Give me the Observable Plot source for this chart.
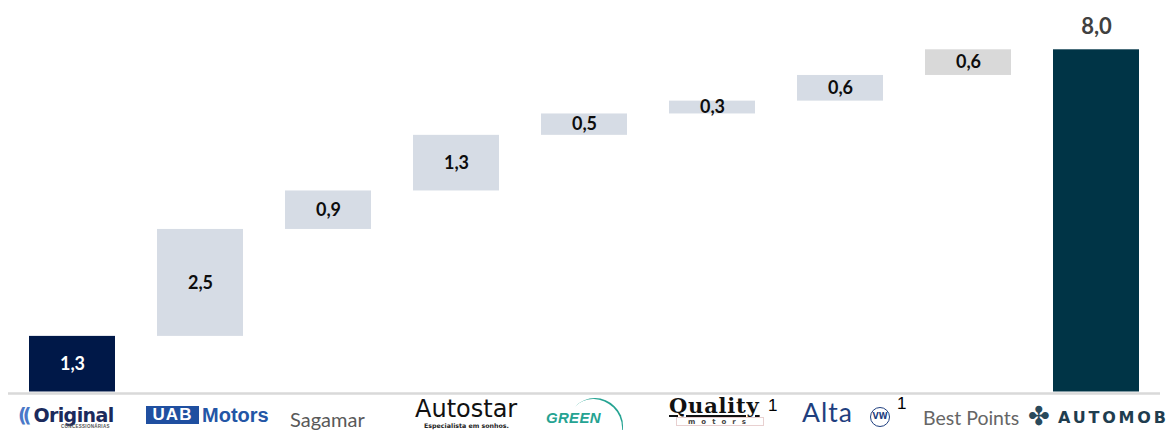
<!DOCTYPE html>
<html>
<head>
<meta charset="utf-8">
<script src="https://cdn.jsdelivr.net/npm/d3@7"></script>
<script src="https://cdn.jsdelivr.net/npm/@observablehq/plot@0.6"></script>
<style>
  html, body { margin: 0; padding: 0; background: #fff; }
  #wrap { position: relative; width: 1172px; height: 430px; overflow: hidden; }
  #logos { position: absolute; left: 0; top: 0; width: 1172px; height: 430px; pointer-events: none; }
  #logos > div { position: absolute; white-space: nowrap; line-height: 1; }
</style>
</head>
<body>
<div id="wrap"><div id="logos"></div></div>
<script>
// ---- data ----
const categories = ["Original", "UAB Motors", "Sagamar", "Autostar", "Green", "Quality", "Alta", "Best Points", "Automob"];
const values     = [1.3, 2.5, 0.9, 1.3, 0.5, 0.3, 0.6, 0.6, 8.0];
const kinds      = ["first", "step", "step", "step", "step", "step", "step", "other", "total"];

// ---- build waterfall table ----
let cum = 0;
const rows = categories.map((cat, i) => {
  const v = values[i];
  let y1, y2;
  if (kinds[i] === "total") { y1 = 0; y2 = v; }
  else { y1 = cum; y2 = cum + v; cum += v; }
  return { cat, value: v, kind: kinds[i], y1, y2 };
});

const fills = { first: "#001848", step: "#d6dce5", other: "#d9d9d9", total: "#003446" };
const fmt = v => d3.format(".1f")(v).replace(".", ",");

const chart = Plot.plot({
  width: 1172,
  height: 430,
  marginLeft: 8,
  marginRight: 12,
  marginTop: 49.3,
  marginBottom: 38.5,
  x: { domain: categories, paddingInner: 0.326, paddingOuter: 0.163, axis: null },
  y: { domain: [0, 8], axis: null },
  color: { type: "identity" },
  style: { fontFamily: "Lato, sans-serif", background: "white", overflow: "visible" },
  marks: [
    Plot.barY(rows, { x: "cat", y1: "y1", y2: "y2", fill: d => fills[d.kind] }),
    Plot.ruleY([0], { stroke: "#d9d9d9", strokeWidth: 2.5, dy: 1.5 }),
    Plot.text(rows.filter(d => d.kind !== "total"), {
      x: "cat", y: d => (d.y1 + d.y2) / 2, text: d => fmt(d.value),
      fill: d => d.kind === "first" ? "#ffffff" : "#0d0d0d",
      fontSize: 18, fontWeight: "bold"
    }),
    Plot.text(rows.filter(d => d.kind === "total"), {
      x: "cat", y: "y2", text: d => fmt(d.value),
      fill: "#404040", fontSize: 22, fontWeight: "bold", lineAnchor: "bottom", dy: -16
    })
  ]
});
document.getElementById("wrap").prepend(chart);

// ---- category labels (logo-like text), positioned from the x scale ----
const xs = chart.scale("x");
const center = c => xs.apply(c) + xs.bandwidth / 2;

// style config: [category, dx from bar center, top, css, html]
const logoParts = [
  ["Original", -54, 404, "font:bold 19px 'DejaVu Sans';letter-spacing:-0.6px;color:#1b2a5c",
    "<span style='color:#4a78c8;letter-spacing:-4px'>((</span> Original"],
  ["Original", -11, 424, "font:bold 4.5px 'Liberation Sans';color:#555;letter-spacing:0.3px", "CONCESSIONÁRIAS"],
  ["UAB Motors", -54, 406, "width:53px;height:18px;background:#1f4fa0;color:#fff;font:bold 17px 'Liberation Sans';text-align:center;line-height:18px;letter-spacing:1px", "UAB"],
  ["UAB Motors", 2, 404, "font:bold 20px 'Liberation Sans';color:#2356a6", "Motors"],
  ["Sagamar", -38, 407, "font:20px Lato;color:#595959", "Sagamar"],
  ["Autostar", -41, 400, "font:24px 'DejaVu Sans';color:#111;line-height:0.8", "Autostar"],
  ["Autostar", -32, 422, "font:bold 6.3px 'DejaVu Sans';color:#222", "Especialista em sonhos."],
  ["Green", -38, 409, "font:italic bold 15px 'Liberation Sans';color:#25a392;letter-spacing:0.3px", "GREEN"],
  ["Green", -17, 398, "width:56px;height:56px;box-sizing:border-box;border-radius:50%;border-right:2.5px solid #25a392;transform:rotate(-45deg)", ""],
  ["Quality", -43, 398, "font:bold 21px 'DejaVu Serif';color:#111;letter-spacing:0.8px;text-decoration:underline;line-height:0.8", "Quality"],
  ["Quality", -36, 416.5, "width:88px;height:9px;box-sizing:border-box;border:1px solid #e8d0d0;font:bold 7px 'DejaVu Sans';color:#444;letter-spacing:6px;text-align:center;line-height:8px", "motors"],
  ["Quality", 56, 396, "font:17px 'Liberation Sans';color:#000", "1"],
  ["Alta", -38, 401.5, "font:26.5px Lato;color:#1f3f7f;letter-spacing:1px;line-height:0.8", "Alta"],
  ["Alta", 30, 406.5, "width:20px;height:20px;box-sizing:border-box;border:1.6px solid #1f3f7f;border-radius:50%;font:bold 8px 'DejaVu Sans';color:#1f3f7f;text-align:center;line-height:17px", "VW"],
  ["Alta", 57, 394, "font:17px 'Liberation Sans';color:#000", "1"],
  ["Best Points", -45, 406, "font:19.5px Lato;color:#666", "Best Points"],
  ["Automob", -68, 405.5, "font:26px 'DejaVu Sans';color:#2a4a5c;line-height:0.8", "✤"],
  ["Automob", -38, 411.5, "font:bold 16px 'DejaVu Sans';color:#1f3d4f;letter-spacing:2.8px;line-height:0.8", "AUTOMOB"]
];

const logos = document.getElementById("logos");
for (const [cat, dx, top, css, html] of logoParts) {
  const el = document.createElement("div");
  el.style.cssText = css;
  el.style.position = "absolute";
  el.style.left = (center(cat) + dx) + "px";
  el.style.top = top + "px";
  el.innerHTML = html;
  logos.appendChild(el);
}
</script>
</body>
</html>
